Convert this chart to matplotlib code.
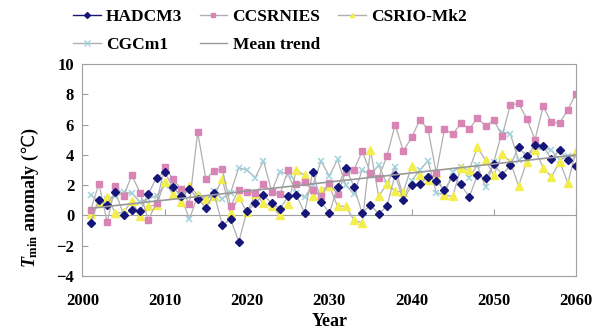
import matplotlib
matplotlib.use("Agg")
import matplotlib.pyplot as plt
from matplotlib.lines import Line2D

plt.rcParams['font.family'] = ['Liberation Serif', 'DejaVu Serif']
plt.rcParams['mathtext.fontset'] = 'custom'
plt.rcParams['mathtext.it'] = 'Liberation Serif:italic:bold'
plt.rcParams['mathtext.rm'] = 'Liberation Serif:bold'
plt.rcParams['mathtext.bf'] = 'Liberation Serif:bold'
plt.rcParams['mathtext.sf'] = 'DejaVu Sans'

years = list(range(2001, 2061))

hadcm3 = [-0.5, 1.05, 0.7, 1.55, 0.05, 0.35, 0.3, 1.4, 2.5, 2.85,
          1.85, 1.3, 1.75, 1.1, 0.5, 1.45, -0.65, -0.25, -1.75, 0.3,
          0.8, 1.35, 0.8, 0.45, 1.25, 1.35, 0.15, 2.9, 0.9, 0.15,
          1.85, 3.15, 1.9, 0.15, 0.7, 0.1, 0.6, 2.7, 1.0, 2.0,
          2.1, 2.55, 2.25, 1.7, 2.55, 2.05, 1.2, 2.65, 2.45, 3.4,
          2.7, 3.3, 4.5, 3.9, 4.65, 4.6, 3.7, 4.35, 3.65, 3.25]

ccsrnies = [0.35, 2.1, -0.45, 1.95, 1.3, 2.65, 1.5, -0.3, 0.85, 3.2,
            2.4, 1.75, 0.75, 5.5, 2.4, 2.95, 3.05, 0.6, 1.7, 1.55,
            1.45, 2.05, 1.55, 1.4, 3.0, 2.05, 2.2, 1.7, 1.25, 2.15,
            1.4, 2.9, 3.0, 4.25, 2.8, 2.5, 3.9, 6.0, 4.25, 5.15,
            6.3, 5.7, 2.8, 5.7, 5.35, 6.1, 5.7, 6.45, 5.9, 6.3,
            5.25, 7.3, 7.4, 6.4, 5.0, 7.2, 6.15, 6.1, 7.0, 8.05]

csrio = [0.1, 0.8, 1.2, 0.15, 0.2, 0.95, -0.05, 0.6, 0.7, 2.2,
         1.4, 0.9, 1.95, 1.35, 1.1, 1.3, 2.4, 0.15, 1.2, 0.2,
         1.4, 0.8, 0.6, 0.0, 0.75, 3.0, 2.65, 1.25, 1.7, 1.95,
         0.6, 0.6, -0.3, -0.5, 4.35, 1.25, 2.1, 1.6, 1.55, 3.25,
         2.65, 2.35, 2.8, 1.35, 1.25, 3.15, 3.0, 4.5, 3.65, 2.65,
         4.05, 3.55, 1.95, 3.55, 4.35, 3.15, 2.55, 3.55, 2.15, 4.25]

cgcm1 = [1.35, 0.9, 1.1, 1.25, 1.55, 1.45, 0.9, 1.1, 1.3, 2.0,
         1.9, 1.2, -0.25, 1.3, 1.0, 1.6, 1.1, 1.5, 3.15, 3.0,
         2.5, 3.6, 1.6, 2.9, 2.7, 1.5, 1.2, 2.0, 3.6, 2.6,
         3.7, 2.0, 1.4, 3.0, 2.7, 3.3, 2.1, 3.2, 1.2, 2.3,
         3.0, 3.6, 1.5, 1.35, 2.9, 3.2, 2.5, 3.3, 1.85, 3.55,
         5.5, 5.4, 3.65, 4.0, 4.3, 4.5, 4.3, 3.65, 3.9, 3.9]

trend_years = [2001, 2060]
trend_vals = [0.47, 4.0]

line_c = '#b0b0b0'
navy = '#15157a'
pink = '#d884b4'
yellow = '#f3ee4c'
cyan = '#9fd3de'

fig = plt.figure(figsize=(6.02, 3.34), dpi=100)
ax = fig.add_axes([0.137, 0.174, 0.82, 0.634])

ax.plot(years, cgcm1, color=line_c, lw=0.9, marker='x', ms=4.5, mec=cyan, mew=1.1)
ax.plot(years, csrio, color=line_c, lw=0.9, marker='^', ms=5.5, mfc=yellow, mec=yellow)
ax.plot(years, ccsrnies, color=line_c, lw=0.9, marker='s', ms=5, mfc=pink, mec=pink)
ax.plot(years, hadcm3, color=line_c, lw=0.9, marker='D', ms=4.5, mfc=navy, mec=navy)
ax.plot(trend_years, trend_vals, color='#999999', lw=1.2)

ax.set_xlim(2000, 2060)
ax.set_ylim(-4, 10)
ax.set_xticks(range(2000, 2061, 10))
ax.set_yticks(range(-4, 11, 2))
for s in ax.spines.values():
    s.set_color('#a0a0a0')
ax.tick_params(axis='x', length=0, pad=12, labelsize=12)
ax.tick_params(axis='y', direction='in', length=4, color='#a0a0a0', labelsize=12, pad=6)
for lab in ax.get_xticklabels() + ax.get_yticklabels():
    lab.set_fontweight('bold')

# zero line with the decade ticks
zero = ax.secondary_xaxis(4 / 14)
zero.set_xticks(range(2000, 2061, 10))
zero.tick_params(direction='in', length=4, color='#a0a0a0', labelbottom=False)
zero.spines['bottom'].set_color('#a0a0a0')
zero.set_xticklabels([])

ax.set_xlabel('Year', fontsize=13, fontweight='bold', labelpad=3)
ax.set_ylabel(r'$T_{\mathrm{min}}$ anomaly ($\mathsf{℃}$)', fontsize=13, fontweight='bold')
ax.yaxis.set_label_coords(-0.085, 0.37)

handles = [
    Line2D([], [], color=navy, lw=1, marker='D', ms=3, mfc=navy, mec=navy),
    Line2D([], [], color=line_c, lw=1, marker='x', ms=4, mec=cyan),
    Line2D([], [], color=line_c, lw=1, marker='s', ms=3, mfc=pink, mec=pink),
    Line2D([], [], color='#999999', lw=1),
    Line2D([], [], color=line_c, lw=1, marker='^', ms=3, mfc=yellow, mec=yellow),
]
labels = ['HADCM3', 'CGCm1', 'CCSRNIES', 'Mean trend', 'CSRIO-Mk2']
fig.legend(handles, labels, loc='upper left', bbox_to_anchor=(0.095, 1.02), ncol=3,
           frameon=False, handlelength=1.6, handletextpad=0.3, columnspacing=1.0,
           labelspacing=0.7, prop={'family': 'Liberation Serif', 'weight': 'bold', 'size': 12.5})

fig.savefig('out.png', dpi=100)
